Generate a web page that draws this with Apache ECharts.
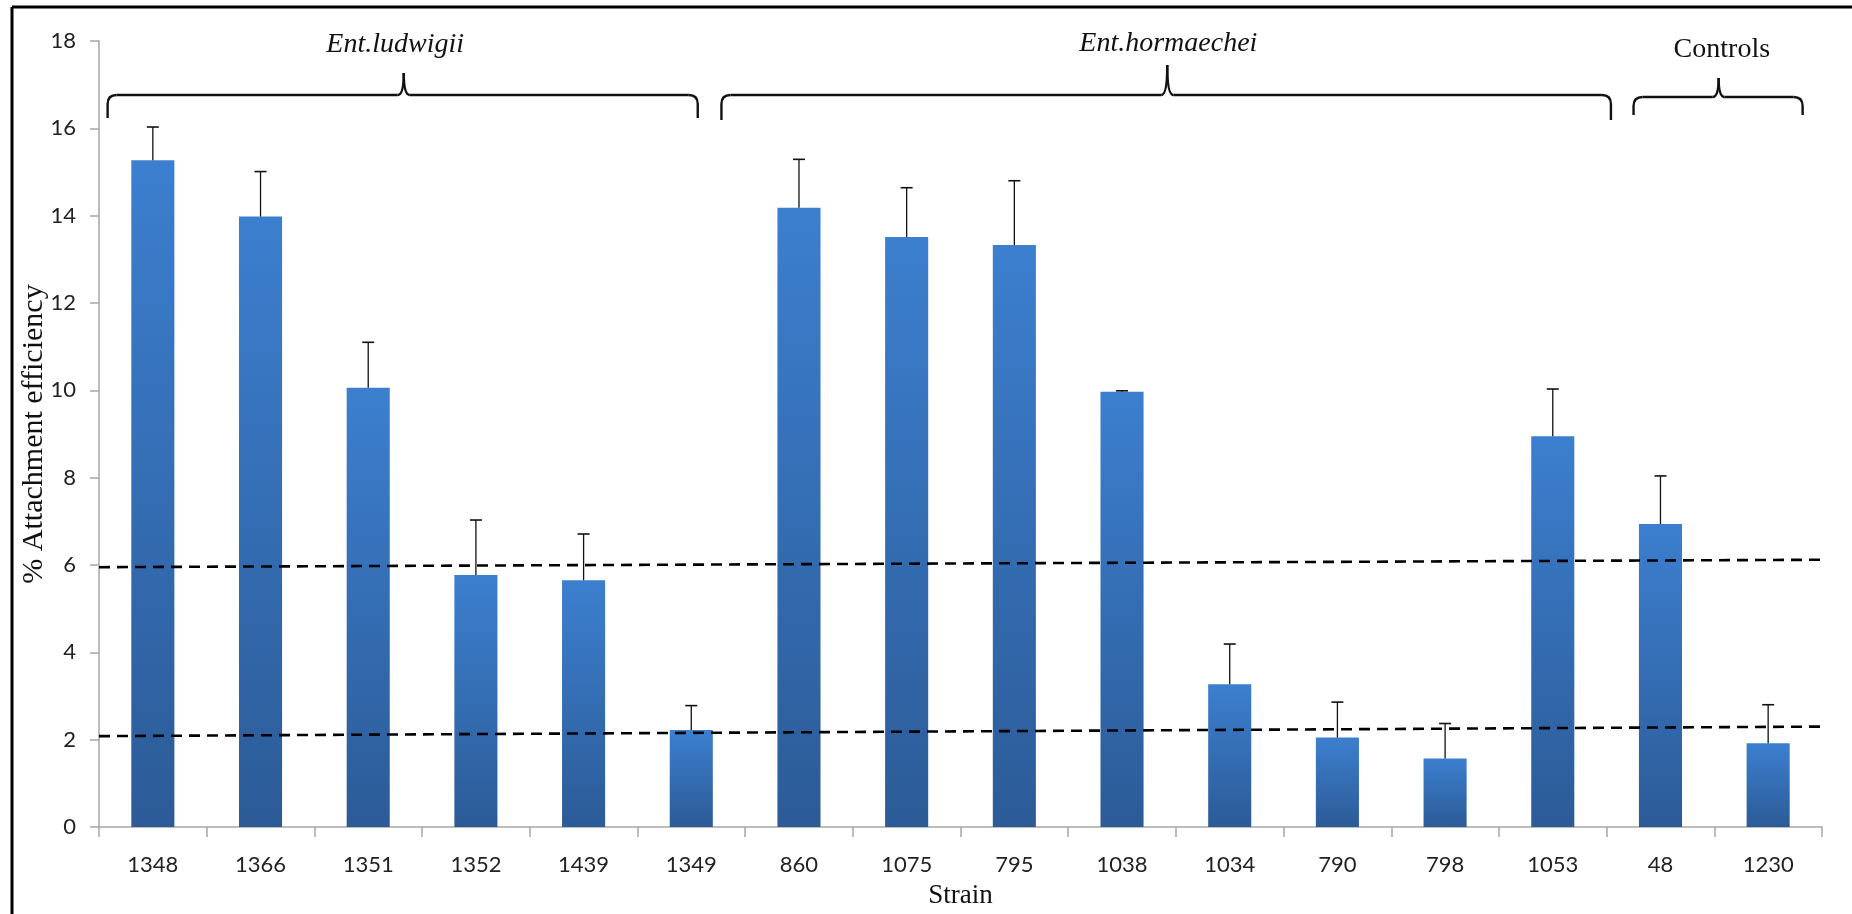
<!DOCTYPE html>
<html>
<head>
<meta charset="utf-8">
<title>% Attachment efficiency by strain</title>
<script src="https://cdn.jsdelivr.net/npm/echarts@6/dist/echarts.min.js"></script>
<style>
  html, body { margin: 0; padding: 0; background: #ffffff; }
  #chart { width: 1852px; height: 914px; }
</style>
</head>
<body>
<div id="chart"></div>
<script>
// Strains on the x axis
const strains = ['1348', '1366', '1351', '1352', '1439', '1349', '860', '1075', '795', '1038', '1034', '790', '798', '1053', '48', '1230'];
// Mean % attachment efficiency per strain
const attachment = [15.27, 13.98, 10.06, 5.77, 5.65, 2.22, 14.18, 13.51, 13.33, 9.97, 3.27, 2.05, 1.57, 8.95, 6.94, 1.92];
// Upper error (standard deviation) per strain
const errorUp = [0.76, 1.03, 1.04, 1.26, 1.06, 0.56, 1.11, 1.13, 1.47, 0.02, 0.92, 0.81, 0.80, 1.08, 1.10, 0.88];
// Cut-off lines, value at the left and right end of the axis
const cutoffHigh = [5.95, 6.12];
const cutoffLow = [2.08, 2.30];
// Y axis ticks
const yMin = 0, yMax = 18, yStep = 2;
// Species groups: name, first and last strain index
const groupNames = ['Ent.ludwigii', 'Ent.hormaechei', 'Controls'];
const groupFirst = [0, 6, 14];
const groupLast = [5, 13, 15];

const chart = echarts.init(document.getElementById('chart'));

const tickFont = 'Lato, "Open Sans", sans-serif';
const serifFont = '"Liberation Serif", "DejaVu Serif", serif';

const barData = attachment.map(function (v) {
  return {
    value: v,
    itemStyle: {
      color: new echarts.graphic.LinearGradient(0, 0, 0, 1, [
        { offset: 0, color: '#3c7fcf' },
        { offset: 1, color: '#2c5b97' }
      ])
    }
  };
});

const errData = attachment.map(function (v, i) { return [i, v, v + errorUp[i]]; });

chart.setOption({
  animation: false,
  backgroundColor: '#ffffff',
  tooltip: { show: false },
  grid: { left: 99, right: 30, top: 41, bottom: 86, containLabel: false },
  xAxis: [
    {
      type: 'category',
      data: strains,
      name: 'Strain',
      nameLocation: 'middle',
      nameGap: 55,
      nameMoveOverlap: false,
      nameTextStyle: { fontFamily: serifFont, fontSize: 27, color: '#111' },
      axisLine: { onZero: false, lineStyle: { color: '#a6a6a6', width: 1.5 } },
      axisTick: { show: true, alignWithLabel: false, length: 10, lineStyle: { color: '#a6a6a6', width: 1.5 } },
      axisLabel: { fontFamily: tickFont, fontSize: 22, color: '#222', margin: 27 },
      splitLine: { show: false }
    },
    {
      type: 'value',
      min: -0.5,
      max: 15.5,
      show: false,
      axisLine: { onZero: false }
    }
  ],
  yAxis: {
    type: 'value',
    min: yMin,
    max: yMax,
    interval: yStep,
    name: '% Attachment efficiency',
    nameLocation: 'middle',
    nameRotate: 90,
    nameGap: 50,
    nameMoveOverlap: false,
    nameTextStyle: { fontFamily: serifFont, fontSize: 30, color: '#111' },
    axisLine: { show: true, onZero: false, lineStyle: { color: '#a6a6a6', width: 1.5 } },
    axisTick: { show: true, inside: false, length: 9, lineStyle: { color: '#a6a6a6', width: 1.5 } },
    axisLabel: { fontFamily: tickFont, fontSize: 22, color: '#222', margin: 23 },
    splitLine: { show: false }
  },
  series: [
    {
      type: 'bar',
      data: barData,
      barWidth: '40%',
      itemStyle: {
        shadowBlur: 4,
        shadowColor: 'rgba(0,0,0,0.28)',
        shadowOffsetX: 1,
        shadowOffsetY: 0
      },
      emphasis: { disabled: true },
      z: 2
    },
    {
      type: 'custom',
      data: errData,
      z: 4,
      silent: true,
      renderItem: function (params, api) {
        const top = api.coord([api.value(0), api.value(1)]);
        const hi = api.coord([api.value(0), api.value(2)]);
        return {
          type: 'group',
          children: [
            { type: 'line', shape: { x1: top[0], y1: top[1], x2: hi[0], y2: hi[1] }, style: { stroke: '#111', lineWidth: 1.3 } },
            { type: 'line', shape: { x1: hi[0] - 6, y1: hi[1], x2: hi[0] + 6, y2: hi[1] }, style: { stroke: '#111', lineWidth: 1.6 } }
          ]
        };
      }
    },
    {
      type: 'line',
      xAxisIndex: 1,
      data: [[-0.5, cutoffHigh[0]], [15.5, cutoffHigh[1]]],
      symbol: 'none',
      silent: true,
      lineStyle: { color: '#000', width: 2.6, type: [11, 7] },
      z: 5
    },
    {
      type: 'line',
      xAxisIndex: 1,
      data: [[-0.5, cutoffLow[0]], [15.5, cutoffLow[1]]],
      symbol: 'none',
      silent: true,
      lineStyle: { color: '#000', width: 2.6, type: [11, 7] },
      z: 5
    }
  ]
});

// Braces and group names above the bars, placed along the category axis
function catX(i) {
  return chart.convertToPixel({ xAxisIndex: 1 }, i);
}

const braceStyle = { stroke: '#111', lineWidth: 2.4, fill: null };

function seg(x1, y1, x2, y2) {
  return { type: 'line', shape: { x1: x1, y1: y1, x2: x2, y2: y2 }, style: braceStyle, z: 10, silent: true };
}
function curve(x1, y1, cx, cy, x2, y2) {
  return { type: 'bezierCurve', shape: { x1: x1, y1: y1, cpx1: cx, cpy1: cy, x2: x2, y2: y2 }, style: braceStyle, z: 10, silent: true };
}

function braceParts(x0, x1, xp, yLine, yEnd, yPeak) {
  const r = 9;
  const w = 6;
  return [
    seg(x0, yEnd, x0, yLine + r),
    curve(x0, yLine + r, x0, yLine, x0 + r, yLine),
    seg(x0 + r, yLine, xp - w, yLine),
    curve(xp - w, yLine, xp, yLine, xp, yPeak),
    curve(xp, yPeak, xp, yLine, xp + w, yLine),
    seg(xp + w, yLine, x1 - r, yLine),
    curve(x1 - r, yLine, x1, yLine, x1, yLine + r),
    seg(x1, yLine + r, x1, yEnd)
  ];
}

// brace layout: left/right/peak offsets around the group's strains, pixel heights
const braceLayout = [
  { left: -0.42, right: 0.06, peak: 2.33, text: 2.25, yLine: 95, yEnd: 118, yPeak: 73, yText: 45, italic: true },
  { left: -0.72, right: 0.54, peak: 9.42, text: 9.43, yLine: 95, yEnd: 120, yPeak: 65, yText: 44, italic: true },
  { left: -0.25, right: 0.32, peak: 14.54, text: 14.57, yLine: 97, yEnd: 115, yPeak: 78, yText: 50, italic: false }
];

const graphics = [
  // outer frame
  { type: 'line', shape: { x1: 12, y1: 7, x2: 1852, y2: 7 }, style: { stroke: '#000', lineWidth: 3 }, z: 10, silent: true },
  { type: 'line', shape: { x1: 12, y1: 7, x2: 12, y2: 914 }, style: { stroke: '#000', lineWidth: 3 }, z: 10, silent: true }
];

groupNames.forEach(function (name, g) {
  const L = braceLayout[g];
  const x0 = catX(groupFirst[g] + L.left);
  const x1 = catX(groupLast[g] + L.right);
  const xp = catX(L.peak);
  braceParts(x0, x1, xp, L.yLine, L.yEnd, L.yPeak).forEach(function (p) { graphics.push(p); });
  graphics.push({
    type: 'text',
    x: catX(L.text),
    y: L.yText,
    silent: true,
    style: {
      text: name,
      fontFamily: serifFont,
      fontStyle: L.italic ? 'italic' : 'normal',
      fontSize: 28,
      fill: '#111',
      align: 'center',
      verticalAlign: 'middle'
    },
    z: 10
  });
});

chart.setOption({ graphic: graphics });
</script>
</body>
</html>
